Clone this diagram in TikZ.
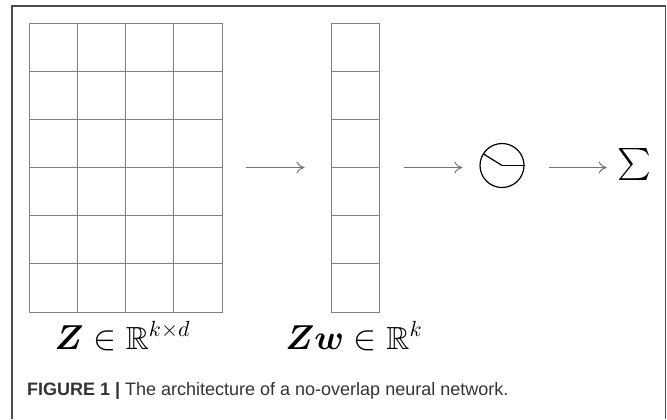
\documentclass[tikz,border=0pt]{standalone}
\usepackage[no-math]{fontspec}
\usepackage{amsmath,amssymb}
\newfontfamily\capfont{Liberation Sans}
\usetikzlibrary{positioning,arrows.meta}
\begin{document}
\begin{tikzpicture}[x=0.5pt, y=-0.5pt,
    cell/.style={draw=black!50, line width=0.5pt},
    arr/.style={-{Computer Modern Rightarrow[length=4pt,width=6pt]}, draw=black!55, line width=0.5pt},
    lbl/.style={font=\fontsize{16}{19}\selectfont, inner sep=0pt, anchor=base}]
            \useasboundingbox (0,0) rectangle (667,419);
            \draw[line width=0.8pt, black!70] (12,419) -- (12,6) -- (665.5,6) -- (665.5,419);

            \node[cell, minimum width=96.5pt, minimum height=144.5pt, inner sep=0pt] (Z) at (125.5,167.5) {};
            \node[cell, minimum width=24pt, minimum height=144.5pt, inner sep=0pt] (Zw) at (355,167.5) {};
            \foreach \i in {1,2,3}
                \draw[cell] (29+48.25*\i,23) -- (29+48.25*\i,312);
            \foreach \j in {1,...,5} {
                \draw[cell] (29,23+48.17*\j) -- (222,23+48.17*\j);
                \draw[cell] (331,23+48.17*\j) -- (379,23+48.17*\j);
            }

            \node[draw, circle, line width=0.6pt, minimum size=22pt, inner sep=0pt] (C) at (502,165.5) {};
            \draw[line width=0.6pt] (C.center) -- (C.east);
            \draw[line width=0.6pt] (C.center) -- ++(-18.6,-11.6);
            \node[inner sep=0pt, font=\fontsize{16}{19}\selectfont] (S) at (634,164.5) {$\sum$};

            \draw[arr, shorten <=11.5pt, shorten >=13pt] (Z.east) -- (Zw.west);
            \draw[arr, shorten <=12pt, shorten >=8.5pt] (Zw.east) -- (Zw.east -| C.west);
            \draw[arr, shorten <=12pt, shorten >=5pt] (Zw.east -| C.east) -- (Zw.east -| S.west);

            \node[lbl] (zlab) at (122.5,349.5) {$\boldsymbol{Z}\in\mathbb{R}^{k\times d}$};
            \node[lbl] (zwlab) at (354,349.5) {$\boldsymbol{Z}\boldsymbol{w}\in\mathbb{R}^{k}$};

            \node[anchor=base west, inner sep=0pt, text=black!80, font=\capfont\fontsize{9}{11}\selectfont] (cap) at (26.7,395.7) {\textbf{FIGURE 1 |} The architecture of a no-overlap neural network.};
        \end{tikzpicture}
\end{document}
